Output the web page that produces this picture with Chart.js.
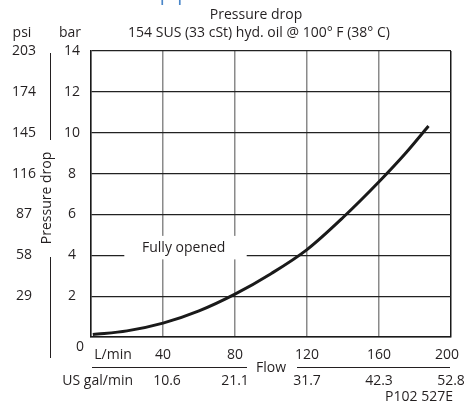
<!DOCTYPE html>
<html>
<head>
<meta charset="utf-8">
<script src="https://cdn.jsdelivr.net/npm/chart.js@4/dist/chart.umd.min.js"></script>
<style>
    html, body { margin: 0; padding: 0; background: #fff; }
    #chart { display: block; }
</style>
</head>
<body>
<canvas id="chart" width="465" height="402"></canvas>
<script>
// curve: flow in L/min, pressure drop in bar
const flowLpm = [1, 20, 40, 60, 80, 100, 120, 140, 160, 175, 187.5];
const dropBar = [0.12, 0.3, 0.68, 1.28, 2.1, 3.1, 4.28, 5.85, 7.6, 9.02, 10.33];

const flowTicks = [40, 80, 120, 160, 200];
const galTicks = ['10.6', '21.1', '31.7', '42.3', '52.8'];
const barTicks = [2, 4, 6, 8, 10, 12, 14];
const psiTicks = ['29', '58', '87', '116', '145', '174', '203'];

const FONT = '"Open Sans", "Noto Sans", sans-serif';
const INK = '#231f20';

const labelsPlugin = {
    id: 'labels',
    beforeDatasetsDraw(chart) {
        // white box behind "Fully opened"
        const ctx = chart.ctx;
        const x = chart.scales.x, y = chart.scales.y;
        ctx.save();
        ctx.fillStyle = '#fff';
        const x0 = x.getPixelForValue(18.5), x1 = x.getPixelForValue(86.5);
        const y0 = y.getPixelForValue(4.95), y1 = y.getPixelForValue(3.8);
        ctx.fillRect(x0, y0, x1 - x0, y1 - y0);
        ctx.fillStyle = INK;
        ctx.font = '14px ' + FONT;
        ctx.textAlign = 'center';
        ctx.textBaseline = 'middle';
        ctx.fillText('Fully opened', x.getPixelForValue(51.5), y.getPixelForValue(4.38));
        ctx.restore();
    },
    afterDraw(chart) {
        const ctx = chart.ctx;
        const x = chart.scales.x, y = chart.scales.y;
        ctx.save();

        // cut-off blue heading at the very top
        ctx.fillStyle = '#4a86c8';
        ctx.font = '20px ' + FONT;
        ctx.textAlign = 'left';
        ctx.textBaseline = 'alphabetic';
        ctx.fillText('Pressure drop performance', 40, 0);

        ctx.fillStyle = INK;
        ctx.textBaseline = 'middle';
        ctx.font = '14px ' + FONT;
        ctx.textAlign = 'center';
        ctx.fillText('Pressure drop', 256, 15);
        ctx.fillText('154 SUS (33 cSt) hyd. oil @ 100\u00b0 F (38\u00b0 C)', 259, 33);
        ctx.fillText('psi', 22, 33);
        ctx.fillText('bar', 70, 33);

        // left tick columns
        barTicks.forEach((v, i) => {
            const py = y.getPixelForValue(v);
            ctx.fillText(String(v), 72, py);
            ctx.fillText(psiTicks[i], 24, py);
        });
        ctx.fillText('0', 80, 347);

        // left axis title with lines
        ctx.strokeStyle = INK;
        ctx.lineWidth = 1;
        ctx.beginPath();
        ctx.moveTo(50.5, 53); ctx.lineTo(50.5, 140);
        ctx.moveTo(50.5, 257); ctx.lineTo(50.5, 358);
        ctx.stroke();
        ctx.save();
        ctx.translate(47, 198);
        ctx.rotate(-Math.PI / 2);
        ctx.fillText('Pressure drop', 0, 0);
        ctx.restore();

        // bottom tick rows
        flowTicks.forEach((v, i) => {
            const px = x.getPixelForValue(v);
            const adj = v === 200 ? -4 : 0;
            ctx.fillText(String(v), px + adj, 355);
            ctx.fillText(galTicks[i], px + (i === 0 ? 4 : 0), 381);
        });
        ctx.fillText('L/min', 113, 355);
        ctx.textAlign = 'right';
        ctx.fillText('US gal/min', 133, 381);
        ctx.textAlign = 'center';
        ctx.fillText('Flow', 271, 368);
        ctx.beginPath();
        ctx.moveTo(92, 367.5); ctx.lineTo(247, 367.5);
        ctx.moveTo(297, 367.5); ctx.lineTo(450, 367.5);
        ctx.stroke();
        ctx.fillText('P102 527E', 419, 397);
        ctx.restore();
    }
};

new Chart(document.getElementById('chart'), {
    type: 'line',
    data: {
        datasets: [{
            data: flowLpm.map((f, i) => ({ x: f, y: dropBar[i] })),
            borderColor: '#1a1a1a',
            borderWidth: 3,
            pointRadius: 0,
            cubicInterpolationMode: 'monotone',
            fill: false
        }]
    },
    options: {
        responsive: false,
        animation: false,
        layout: { padding: { left: 91, right: 14, top: 51, bottom: 65 } },
        plugins: { legend: { display: false }, tooltip: { enabled: false } },
        scales: {
            x: {
                type: 'linear', min: 0, max: 200,
                ticks: { display: false, stepSize: 40 },
                grid: {
                    drawTicks: false,
                    color: c => c.tick && c.tick.value === 200 ? '#1a1a1a' : '#8a8a8a',
                    lineWidth: 1.5
                },
                border: { color: '#1a1a1a', width: 1.5 }
            },
            y: {
                min: 0, max: 14,
                ticks: { display: false, stepSize: 2 },
                grid: { drawTicks: false, color: '#222', lineWidth: 1.2 },
                border: { color: '#1a1a1a', width: 1.5 }
            }
        }
    },
    plugins: [labelsPlugin]
});
</script>
</body>
</html>
